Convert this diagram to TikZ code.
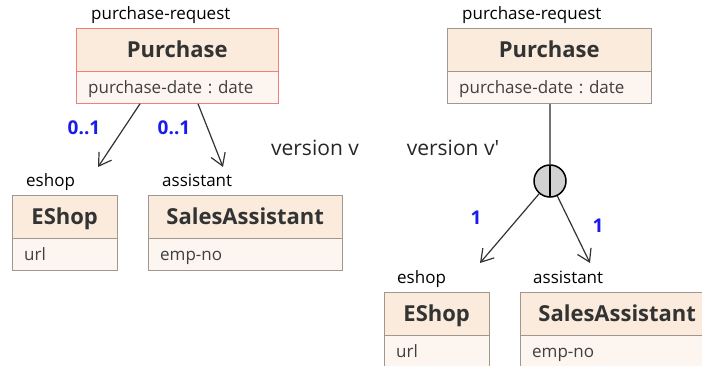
\documentclass[tikz,border=0pt]{standalone}
\usepackage{fontspec}
\setmainfont{Open Sans}
\usetikzlibrary{positioning,arrows.meta}
\frenchspacing

\definecolor{boxline}{HTML}{A09890}
\definecolor{redline}{HTML}{F08080}
\definecolor{headfill}{HTML}{FAEBDC}
\definecolor{attrfill}{HTML}{FDF5EF}
\definecolor{multblue}{HTML}{1A1AF0}
\definecolor{lineclr}{HTML}{333333}

\tikzset{
  cname/.style={draw=boxline, fill=headfill, font=\bfseries\fontsize{22}{24}\selectfont,
    text=black!80, minimum height=43, inner sep=0, text height=15, text depth=0, anchor=north west},
  cattr/.style={draw=boxline, fill=attrfill, font=\fontsize{17}{19}\selectfont,
    text=black!75, minimum height=32, inner ysep=0, inner xsep=12, text height=12, text depth=0,
    text width=#1, align=left},
  role/.style={font=\fontsize{17}{19}\selectfont, inner sep=0, anchor=base west},
  mult/.style={font=\bfseries\fontsize{19}{21}\selectfont, text=multblue},
  vers/.style={font=\fontsize{21}{23}\selectfont, text=black!85},
  assoc/.style={draw=lineclr, line width=1.2, -{Straight Barb[length=12,width=15]}},
}

\begin{document}
\begin{tikzpicture}[x=1pt,y=-1pt]
  \useasboundingbox (0,0) rectangle (702,366);
  \clip (0,0) rectangle (702,366);

  % version v
  \node[role] (rq1) at (91,20) {purchase-request};
  \node[cname, minimum width=202, draw=redline] (pur1) at (76,28) {Purchase};
  \node[cattr=178, draw=redline, below=0pt of pur1] (pur1a) {purchase-date : date};

  \node[role] (es1) at (26,187) {eshop};
  \node[cname, minimum width=105] (shop1) at (12,195) {EShop};
  \node[cattr=81, below=0pt of shop1] (shop1a) {url};

  \node[role] (as1) at (162,187) {assistant};
  \node[cname, minimum width=194] (sa1) at (148,195) {SalesAssistant};
  \node[cattr=170, below=0pt of sa1] (sa1a) {emp-no};

  \coordinate (t1) at (98,167);
  \coordinate (t2) at (223,167);
  \draw[assoc] ([xshift=64]pur1a.south west) -- (t1);
  \draw[assoc] ([xshift=122]pur1a.south west) -- (t2);
  \node[mult] (m1) at (84,128) {0..1};
  \node[mult] (m2) at (174,128) {0..1};

  \node[vers] (v1) at (315,148) {version v};
  \node[vers] (v2) at (453,148) {version v\textquotesingle};

  % version v'
  \node[role] (rq2) at (462,20) {purchase-request};
  \node[cname, minimum width=204] (pur2) at (447,28) {Purchase};
  \node[cattr=180, below=0pt of pur2] (pur2a) {purchase-date : date};

  \node[circle, draw=black, line width=1.5, fill=black!18, minimum size=32, inner sep=0,
    path picture={\draw[line width=1.8] (path picture bounding box.north) -- (path picture bounding box.south);}]
    (xor) at (550,181) {};
  \draw[draw=black!55, line width=1.8] ([xshift=103]pur2a.south west) -- (xor);

  \node[role] (es2) at (397,284) {eshop};
  \node[cname, minimum width=105] (shop2) at (384,292) {EShop};
  \node[cattr=81, below=0pt of shop2] (shop2a) {url};

  \node[role] (as2) at (533,284) {assistant};
  \node[cname, minimum width=194] (sa2) at (520,292) {SalesAssistant};
  \node[cattr=170, below=0pt of sa2] (sa2a) {emp-no};

  \coordinate (t3) at (480,263);
  \coordinate (t4) at (590,263);
  \draw[assoc] (xor) -- (t3);
  \draw[assoc] (xor) -- (t4);
  \node[mult] (m3) at (476,218) {1};
  \node[mult] (m4) at (598,226) {1};
\end{tikzpicture}
\end{document}
